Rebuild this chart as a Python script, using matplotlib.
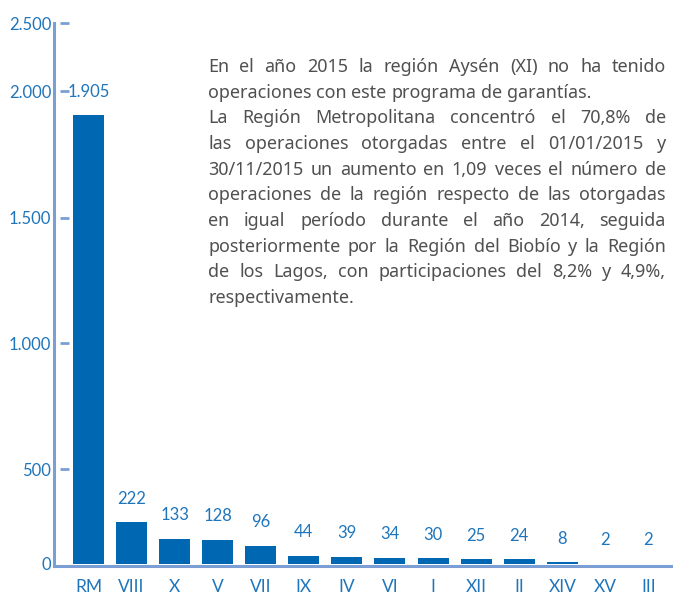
import numpy as np
import matplotlib
matplotlib.use("Agg")
import matplotlib.pyplot as plt
from matplotlib.transforms import blended_transform_factory

# ---------------- data ----------------
regions = ["RM", "VIII", "X", "V", "VII", "IX", "IV", "VI", "I", "XII", "II", "XIV", "XV", "III"]
operations = [1905, 222, 133, 128, 96, 44, 39, 34, 30, 25, 24, 8, 2, 2]
value_labels = ["1.905", "222", "133", "128", "96", "44", "39", "34", "30", "25", "24", "8", "2", "2"]
y_ticks = [0, 500, 1000, 1500, 2000, 2500]
y_tick_labels = ["0", "500", "1.000", "1.500", "2.000", "2.500"]

paragraph_1 = [
    "En el año 2015 la región Aysén (XI) no ha tenido",
    "operaciones con este programa de garantías.",
]
paragraph_2 = [
    "La Región Metropolitana concentró el 70,8% de",
    "las operaciones otorgadas entre el 01/01/2015 y",
    "30/11/2015 un aumento en 1,09 veces el número de",
    "operaciones de la región respecto de las otorgadas",
    "en igual período durante el año 2014, seguida",
    "posteriormente por la Región del Biobío y la Región",
    "de los Lagos, con participaciones del 8,2% y 4,9%,",
    "respectivamente.",
]

# ---------------- style ----------------
W, H = 673, 594
BAR = "#0068b3"
AXIS = "#7b9fd4"
LABEL = "#1f75bb"
GREY = "#505050"
FAMILY = ["Noto Sans", "DejaVu Sans"]
LFAMILY = ["Lato", "DejaVu Sans"]

# tick spacing of the original graphic is uneven; reproduce it with a function scale
tick_pixels = [0, 95, 221, 346, 473, 541]
low_slope = tick_pixels[1] / y_ticks[1]

def fwd(v):
    v = np.asarray(v, dtype=float)
    out = np.interp(v, y_ticks, tick_pixels)
    return np.where(v < 0, v * low_slope, out)

def inv(p):
    p = np.asarray(p, dtype=float)
    out = np.interp(p, tick_pixels, y_ticks)
    return np.where(p < 0, p / low_slope, out)

fig = plt.figure(figsize=(W / 100, H / 100), dpi=100)
renderer = fig.canvas.get_renderer()

ax_left, ax_right, ax_bottom, ax_top = 54, 673, 565.5, 23
ax = fig.add_axes([ax_left / W, 1 - ax_bottom / H, (ax_right - ax_left) / W, (ax_bottom - ax_top) / H])
ax.set_yscale("function", functions=(fwd, inv))

x = np.arange(len(regions))
ax.bar(x, operations, width=0.72, color=BAR, zorder=4)
ax.set_xlim(-0.80, len(regions) - 1 + 0.57)
ax.set_ylim(-1.5 / low_slope, 2500)

for xi, v, lab in zip(x, operations, value_labels):
    ax.annotate(lab, xy=(xi, v), xytext=(0, 11), textcoords="offset points",
                ha="center", va="bottom", color=LABEL, fontsize=12, family=LFAMILY)

for s in ["top", "right"]:
    ax.spines[s].set_visible(False)
for s in ["left", "bottom"]:
    ax.spines[s].set_color(AXIS)
    ax.spines[s].set_linewidth(2.2)
    ax.spines[s].set_zorder(3)

ax.set_yticks(y_ticks)
ax.set_yticklabels(y_tick_labels, family=LFAMILY)
ax.set_xticks(x)
ax.set_xticklabels(regions, family=LFAMILY)
ax.tick_params(axis="y", length=0, pad=2, labelsize=12, labelcolor=LABEL)
ax.tick_params(axis="x", length=0, pad=10, labelsize=12.5, labelcolor=LABEL)

# separated tick dashes
axw = ax_right - ax_left
blend = blended_transform_factory(ax.transAxes, ax.transData)
for v in y_ticks[1:]:
    ax.plot([6 / axw, 15 / axw], [v, v], transform=blend, color=AXIS, lw=2.0,
            solid_capstyle="butt", clip_on=False)

# ---------------- justified text block ----------------
probe = fig.text(0, 0, paragraph_1[1], fontsize=12, family=FAMILY)
w12 = probe.get_window_extent(renderer).width
probe.remove()
fs = 12 * 382 / w12

left_px, right_px = 208, 666
base0, step = 72, 25.67

def measure(word):
    t = fig.text(0, 0, word, fontsize=fs, family=FAMILY)
    w = t.get_window_extent(renderer).width
    t.remove()
    return w

space_w = measure("a a") - 2 * measure("a")

lines = []
for para in (paragraph_1, paragraph_2):
    for i, ln in enumerate(para):
        lines.append((ln, i == len(para) - 1))

for k, (ln, last) in enumerate(lines):
    y = base0 + k * step
    words = ln.split(" ")
    widths = [measure(wd) for wd in words]
    if last or len(words) == 1:
        gap = space_w
    else:
        gap = (right_px - left_px - sum(widths)) / (len(words) - 1)
    xp = left_px
    for wd, ww in zip(words, widths):
        fig.text(xp / W, 1 - y / H, wd, fontsize=fs, family=FAMILY, color=GREY,
                 ha="left", va="baseline")
        xp += ww + gap

fig.savefig("out.png", dpi=100)
